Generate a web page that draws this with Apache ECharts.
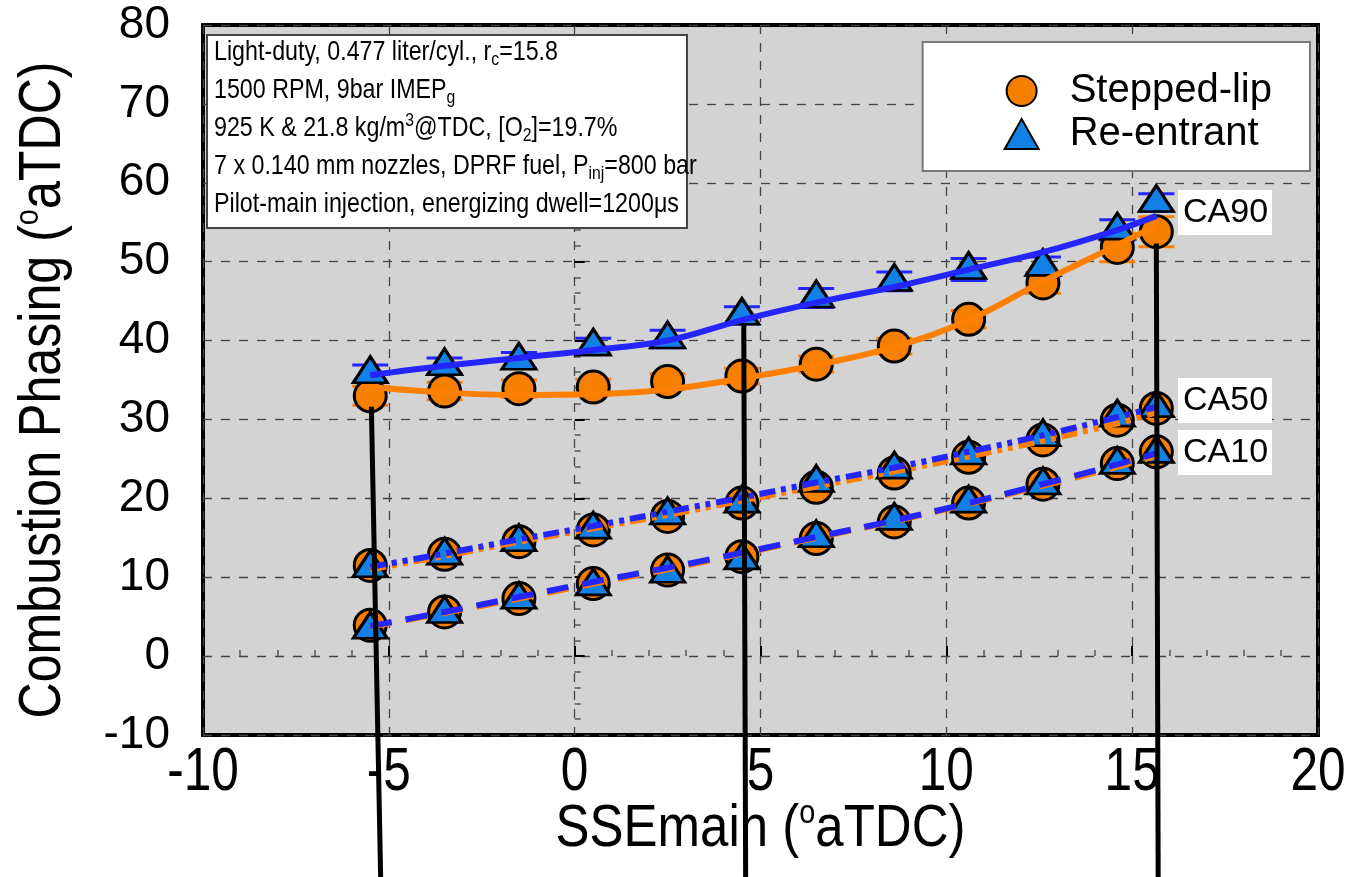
<!DOCTYPE html>
<html>
<head>
<meta charset="utf-8">
<script src="https://cdn.jsdelivr.net/npm/echarts@6/dist/echarts.min.js"></script>
<style>
  html, body { margin: 0; padding: 0; background: #fff; }
  #chart { width: 1354px; height: 877px; }
</style>
</head>
<body>
<div id="chart"></div>
<script>
// SSEmain timing of the main injection (°aTDC)
const sseMain = [-5.5, -3.5, -1.5, 0.5, 2.5, 4.5, 6.5, 8.6, 10.6, 12.6, 14.6, 15.65];

// measured phasing, stepped-lip piston
const ca90Stepped = [33.0, 33.6, 33.9, 34.1, 34.8, 35.5, 37.0, 39.3, 42.7, 47.3, 51.8, 53.8];
const ca50Stepped = [11.5, 12.9, 14.5, 16.0, 17.7, 19.4, 21.4, 23.2, 25.2, 27.4, 29.9, 31.4];
const ca10Stepped = [3.9, 5.6, 7.3, 9.2, 10.9, 12.6, 14.9, 17.0, 19.4, 21.8, 24.4, 25.9];
// measured phasing, re-entrant piston
const ca90Reentrant = [35.8, 36.8, 37.5, 39.3, 40.2, 43.2, 45.4, 47.5, 49.0, 49.4, 54.0, 57.5];
const ca50Reentrant = [11.2, 12.8, 14.5, 16.1, 17.9, 19.4, 22.0, 23.7, 25.5, 27.8, 30.3, 31.5];
const ca10Reentrant = [3.4, 5.4, 7.2, 8.9, 10.5, 12.2, 15.0, 17.2, 19.4, 21.7, 24.3, 25.7];

// CA90 error bars (half width)
const err90Stepped = [1.2, 1.1, 1.1, 1.0, 1.0, 1.0, 1.0, 1.0, 1.1, 1.3, 1.8, 1.9];
const err90Reentrant = [1.1, 1.0, 1.0, 1.0, 1.1, 1.1, 1.2, 1.2, 1.4, 1.2, 1.3, 1.1];

// fitted curves
const fit90Stepped = [34.1, 33.4, 33.1, 33.2, 33.8, 35.2, 36.9, 39.2, 42.6, 47.5, 52.1, 54.6];
const fit90Reentrant = [35.6, 36.8, 37.8, 38.8, 40.0, 42.6, 44.8, 46.8, 49.0, 51.2, 54.0, 55.8];
const fit50Stepped = [11.0, 12.7, 14.5, 16.2, 17.9, 19.7, 21.5, 23.4, 25.3, 27.3, 29.5, 30.9];
const fit50Reentrant = [11.3, 13.0, 14.8, 16.5, 18.3, 20.1, 22.0, 23.9, 25.9, 28.0, 30.3, 31.6];
const fit10Stepped = [3.7, 5.5, 7.3, 9.2, 11.0, 13.0, 15.0, 17.1, 19.3, 21.6, 24.0, 25.4];
const fit10Reentrant = [3.8, 5.6, 7.5, 9.4, 11.2, 13.1, 15.1, 17.2, 19.4, 21.8, 24.3, 25.7];

// black pointer lines running below the axis
const pointerX = [[-5.47, -5.22], [4.55, 4.6], [15.65, 15.7]];
const pointerY = [[31.6, -28], [42.2, -28], [52.3, -28]];

const xTicks = [-10, -5, 0, 5, 10, 15, 20];
const curveLabels = ['CA90', 'CA50', 'CA10'];
const infoLines = [
  'Light-duty, 0.477 liter/cyl., r{sub|c}=15.8',
  '1500 RPM, 9bar IMEP{sub|g}',
  '925 K & 21.8 kg/m{sup|3}@TDC, [O{sub|2}]=19.7%',
  '7 x 0.140 mm nozzles, DPRF fuel, P{sub|inj}=800 bar',
  'Pilot-main injection, energizing dwell=1200\u03bcs'
];

const ORANGE = '#f77f00';
const ORANGE_LINE = '#ff7f00';
const BLUE = '#1380e6';
const BLUE_LINE = '#2525ff';
const SANS = "'Liberation Sans', Arial, sans-serif";
const SQUEEZE = 0.8; // the original type is a condensed face

const pairs = (ys) => sseMain.map((x, i) => [x, ys[i]]);
const errPairs = (ys, es) => sseMain.map((x, i) => [x, ys[i] - es[i], ys[i] + es[i]]);

function errorBar(color) {
  return function (params, api) {
    const x = api.value(0);
    const lo = api.coord([x, api.value(1)]);
    const hi = api.coord([x, api.value(2)]);
    const half = 18;
    const style = { stroke: color, lineWidth: 3 };
    return {
      type: 'group',
      children: [
        { type: 'line', shape: { x1: hi[0], y1: hi[1], x2: lo[0], y2: lo[1] }, style },
        { type: 'line', shape: { x1: hi[0] - half, y1: hi[1], x2: hi[0] + half, y2: hi[1] }, style },
        { type: 'line', shape: { x1: lo[0] - half, y1: lo[1], x2: lo[0] + half, y2: lo[1] }, style }
      ]
    };
  };
}

function fitLine(ys, color, type) {
  return {
    type: 'line',
    data: pairs(ys),
    smooth: 0.4,
    showSymbol: false,
    silent: true,
    lineStyle: { color: color, width: 6, type: type }
  };
}

const dashDotDot = [16, 6, 5, 6, 5, 6];
const dashed = [22, 14];

const chart = echarts.init(document.getElementById('chart'));

const option = {
  animation: false,
  backgroundColor: '#fff',
  grid: {
    left: 203, top: 25, width: 1115, height: 710,
    show: true,
    backgroundColor: '#d3d3d3',
    borderColor: '#000',
    borderWidth: 4
  },
  legend: {
    data: ['Stepped-lip', 'Re-entrant'],
    orient: 'vertical',
    right: 44,
    top: 42,
    padding: [29, 38, 17, 81],
    itemWidth: 34,
    itemHeight: 30,
    itemGap: 3,
    backgroundColor: '#fff',
    borderColor: '#777',
    borderWidth: 2,
    textStyle: { fontSize: 40, fontFamily: SANS, color: '#000', lineHeight: 36, padding: [0, 0, 0, 26] }
  },
  xAxis: {
    type: 'value',
    min: -10, max: 20, interval: 5,
    axisLine: { show: false },
    axisTick: { show: true, inside: true, length: 10, lineStyle: { color: '#000', width: 2 } },
    minorTick: { show: true, splitNumber: 5, length: 6, lineStyle: { color: '#555', width: 1.5 } },
    splitLine: { show: true, lineStyle: { color: '#444', width: 1.3, type: [9, 9] } },
    axisLabel: { show: false }
  },
  yAxis: {
    type: 'value',
    min: -10, max: 80, interval: 10,
    axisLine: { show: false },
    axisTick: { show: true, inside: true, length: 10, lineStyle: { color: '#000', width: 2 } },
    minorTick: { show: true, splitNumber: 5, length: 6, lineStyle: { color: '#555', width: 1.5 } },
    splitLine: { show: true, lineStyle: { color: '#444', width: 1.3, type: [9, 9] } },
    axisLabel: { fontSize: 46, fontFamily: SANS, color: '#000', margin: 33 }
  },
  series: [
    fitLine(fit90Stepped, ORANGE_LINE, 'solid'),
    fitLine(fit50Stepped, ORANGE_LINE, dashDotDot),
    fitLine(fit10Stepped, ORANGE_LINE, dashed),
    {
      type: 'custom',
      renderItem: errorBar(ORANGE_LINE),
      data: errPairs(ca90Stepped, err90Stepped),
      encode: { x: 0, y: [1, 2] },
      silent: true
    },
    {
      name: 'Stepped-lip',
      type: 'scatter',
      symbol: 'circle',
      symbolSize: 32,
      itemStyle: { color: ORANGE, borderColor: '#000', borderWidth: 3, opacity: 1 },
      data: pairs(ca90Stepped).concat(pairs(ca50Stepped), pairs(ca10Stepped))
    },
    fitLine(fit90Reentrant, BLUE_LINE, 'solid'),
    fitLine(fit50Reentrant, BLUE_LINE, dashDotDot),
    fitLine(fit10Reentrant, BLUE_LINE, dashed),
    {
      type: 'custom',
      renderItem: errorBar(BLUE_LINE),
      data: errPairs(ca90Reentrant, err90Reentrant),
      encode: { x: 0, y: [1, 2] },
      silent: true
    },
    {
      name: 'Re-entrant',
      type: 'scatter',
      symbol: 'triangle',
      symbolSize: [34, 26],
      symbolOffset: [0, -4],
      itemStyle: { color: BLUE, borderColor: '#000', borderWidth: 3, opacity: 1 },
      data: pairs(ca90Reentrant).concat(pairs(ca50Reentrant), pairs(ca10Reentrant))
    }
  ].concat(pointerX.map((px, i) => ({
    type: 'line',
    data: [[px[0], pointerY[i][0]], [px[1], pointerY[i][1]]],
    showSymbol: false,
    clip: false,
    silent: true,
    z: 5,
    lineStyle: { color: '#000', width: 5 }
  })))
};

chart.setOption(option);

// texts in the condensed face: x tick labels, axis titles, annotation boxes
const axisBottom = chart.convertToPixel({ yAxisIndex: 0 }, -10);
const supRich = { sup: { fontSize: 34, fontFamily: SANS, lineHeight: 30, verticalAlign: 'top' } };

const tickGraphics = xTicks.map((v) => ({
  type: 'text',
  x: chart.convertToPixel({ xAxisIndex: 0 }, v),
  y: axisBottom + 38,
  scaleX: SQUEEZE,
  silent: true,
  style: {
    text: String(v),
    fill: '#000', fontSize: 62, fontFamily: SANS,
    align: 'center', verticalAlign: 'middle'
  }
}));

const titleGraphics = [
  {
    type: 'text',
    x: chart.convertToPixel({ xAxisIndex: 0 }, 5),
    y: 829,
    scaleX: 0.85,
    silent: true,
    style: {
      text: 'SSEmain ({sup|o}aTDC)', fill: '#000', fontSize: 60, fontFamily: SANS,
      lineHeight: 64, align: 'center', verticalAlign: 'middle', rich: supRich
    }
  },
  {
    type: 'text',
    x: 44,
    y: 390,
    rotation: Math.PI / 2,
    scaleX: 0.85,
    silent: true,
    style: {
      text: 'Combustion Phasing ({sup|o}aTDC)', fill: '#000', fontSize: 59, fontFamily: SANS,
      lineHeight: 64, align: 'center', verticalAlign: 'middle', rich: supRich
    }
  }
];

const infoGraphics = [{
  type: 'rect',
  shape: { x: 207, y: 35, width: 480, height: 193 },
  z: 100,
  silent: true,
  style: { fill: '#fff', stroke: '#444', lineWidth: 2 }
}].concat(infoLines.map((t, i) => ({
  type: 'text',
  x: 214,
  y: 52 + i * 38,
  scaleX: 0.83,
  z: 101,
  silent: true,
  style: {
    text: t,
    fill: '#000',
    fontSize: 28,
    fontFamily: SANS,
    lineHeight: 34,
    verticalAlign: 'middle',
    rich: {
      sub: { fontSize: 19, fontFamily: SANS, lineHeight: 10, verticalAlign: 'bottom' },
      sup: { fontSize: 19, fontFamily: SANS, lineHeight: 20, verticalAlign: 'top' }
    }
  }
})));

const labelY = [190, 378, 430];
const labelGraphics = curveLabels.map((t, i) => ({
  type: 'text',
  x: 1178,
  y: labelY[i],
  z: 101,
  silent: true,
  style: {
    text: t,
    fill: '#000',
    fontSize: 34,
    fontFamily: SANS,
    backgroundColor: '#fff',
    padding: [6, 4, 5, 5]
  }
}));

chart.setOption({ graphic: tickGraphics.concat(titleGraphics, infoGraphics, labelGraphics) });
</script>
</body>
</html>
